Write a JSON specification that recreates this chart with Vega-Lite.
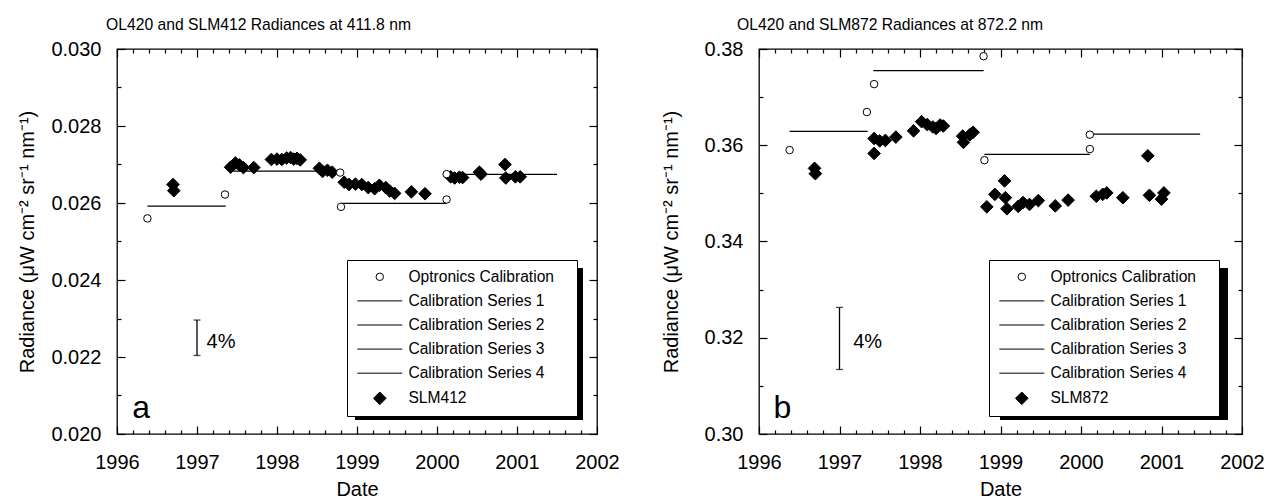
{
  "$schema": "https://vega.github.io/schema/vega-lite/v6.json",
  "background": "white",
  "padding": {"left": 17, "top": 16, "right": 0, "bottom": 0},
  "spacing": 40,
  "config": {
    "font": "Liberation Sans",
    "view": {"stroke": "black", "strokeWidth": 1.3},
    "axis": {"domain": false, "grid": false, "tickColor": "black", "tickWidth": 1.2, "labelColor": "black", "titleColor": "black", "labelFont": "Liberation Sans", "titleFont": "Liberation Sans", "labelFontSize": 20, "titleFontSize": 20, "titleFontWeight": "normal", "labelOverlap": false, "labelFlush": false},
    "title": {"font": "Liberation Sans", "fontSize": 15.7, "fontWeight": "normal", "color": "black", "anchor": "start", "frame": "group", "baseline": "alphabetic", "offset": 5},
    "legend": {"orient": "none", "title": null, "padding": 9, "strokeColor": "black", "fillColor": "white", "cornerRadius": 0, "labelFont": "Liberation Sans", "labelFontSize": 15.6, "labelColor": "black", "labelLimit": 400, "rowPadding": 7.1, "symbolOffset": 16, "labelOffset": 20.8, "symbolStrokeWidth": 1, "symbolOpacity": 1}
  },
  "datasets": {
    "points_a": [
      {"series": "SLM412", "year": 1996.70, "radiance": 0.02648},
      {"series": "SLM412", "year": 1996.71, "radiance": 0.02632},
      {"series": "SLM412", "year": 1997.42, "radiance": 0.02693},
      {"series": "SLM412", "year": 1997.48, "radiance": 0.02704},
      {"series": "SLM412", "year": 1997.53, "radiance": 0.02699},
      {"series": "SLM412", "year": 1997.58, "radiance": 0.02692},
      {"series": "SLM412", "year": 1997.71, "radiance": 0.02692},
      {"series": "SLM412", "year": 1997.93, "radiance": 0.02713},
      {"series": "SLM412", "year": 1998.00, "radiance": 0.02714},
      {"series": "SLM412", "year": 1998.06, "radiance": 0.02713},
      {"series": "SLM412", "year": 1998.12, "radiance": 0.02717},
      {"series": "SLM412", "year": 1998.17, "radiance": 0.02718},
      {"series": "SLM412", "year": 1998.21, "radiance": 0.02714},
      {"series": "SLM412", "year": 1998.25, "radiance": 0.02716},
      {"series": "SLM412", "year": 1998.29, "radiance": 0.02712},
      {"series": "SLM412", "year": 1998.53, "radiance": 0.02690},
      {"series": "SLM412", "year": 1998.57, "radiance": 0.02682},
      {"series": "SLM412", "year": 1998.63, "radiance": 0.02685},
      {"series": "SLM412", "year": 1998.69, "radiance": 0.02680},
      {"series": "SLM412", "year": 1998.84, "radiance": 0.02654},
      {"series": "SLM412", "year": 1998.90, "radiance": 0.02648},
      {"series": "SLM412", "year": 1998.98, "radiance": 0.02649},
      {"series": "SLM412", "year": 1999.06, "radiance": 0.02648},
      {"series": "SLM412", "year": 1999.14, "radiance": 0.02640},
      {"series": "SLM412", "year": 1999.22, "radiance": 0.02637},
      {"series": "SLM412", "year": 1999.28, "radiance": 0.02646},
      {"series": "SLM412", "year": 1999.36, "radiance": 0.02640},
      {"series": "SLM412", "year": 1999.41, "radiance": 0.02631},
      {"series": "SLM412", "year": 1999.47, "radiance": 0.02625},
      {"series": "SLM412", "year": 1999.68, "radiance": 0.02629},
      {"series": "SLM412", "year": 1999.85, "radiance": 0.02624},
      {"series": "SLM412", "year": 2000.17, "radiance": 0.02668},
      {"series": "SLM412", "year": 2000.22, "radiance": 0.02665},
      {"series": "SLM412", "year": 2000.28, "radiance": 0.02667},
      {"series": "SLM412", "year": 2000.32, "radiance": 0.02666},
      {"series": "SLM412", "year": 2000.53, "radiance": 0.02680},
      {"series": "SLM412", "year": 2000.55, "radiance": 0.02675},
      {"series": "SLM412", "year": 2000.85, "radiance": 0.02700},
      {"series": "SLM412", "year": 2000.86, "radiance": 0.02665},
      {"series": "SLM412", "year": 2000.98, "radiance": 0.02668},
      {"series": "SLM412", "year": 2001.04, "radiance": 0.02668},
      {"series": "Optronics Calibration", "year": 1996.38, "radiance": 0.02560},
      {"series": "Optronics Calibration", "year": 1997.35, "radiance": 0.02622},
      {"series": "Optronics Calibration", "year": 1998.79, "radiance": 0.02679},
      {"series": "Optronics Calibration", "year": 1998.80, "radiance": 0.02590},
      {"series": "Optronics Calibration", "year": 2000.12, "radiance": 0.02609},
      {"series": "Optronics Calibration", "year": 2000.12, "radiance": 0.02675}
    ],
    "lines_a": [
      {"series": "Calibration Series 1", "start": 1996.38, "end": 1997.36, "value": 0.02592},
      {"series": "Calibration Series 2", "start": 1997.42, "end": 1998.79, "value": 0.02683},
      {"series": "Calibration Series 3", "start": 1998.80, "end": 2000.12, "value": 0.02599},
      {"series": "Calibration Series 4", "start": 2000.12, "end": 2001.50, "value": 0.026745}
    ],
    "bar_a": [{"year": 1997.0, "low": 0.02204, "high": 0.02296}],
    "pct_a": [{"label": "4%", "year": 1997.12, "radiance": 0.02224}],
    "tag_a": [{"label": "a", "year": 1996.19, "radiance": 0.02042}],
    "points_b": [
      {"series": "SLM872", "year": 1996.69, "radiance": 0.3552},
      {"series": "SLM872", "year": 1996.70, "radiance": 0.3541},
      {"series": "SLM872", "year": 1997.43, "radiance": 0.3583},
      {"series": "SLM872", "year": 1997.43, "radiance": 0.3614},
      {"series": "SLM872", "year": 1997.50, "radiance": 0.3609},
      {"series": "SLM872", "year": 1997.57, "radiance": 0.3610},
      {"series": "SLM872", "year": 1997.70, "radiance": 0.3617},
      {"series": "SLM872", "year": 1997.92, "radiance": 0.3630},
      {"series": "SLM872", "year": 1998.02, "radiance": 0.3649},
      {"series": "SLM872", "year": 1998.09, "radiance": 0.3643},
      {"series": "SLM872", "year": 1998.16, "radiance": 0.3638},
      {"series": "SLM872", "year": 1998.20, "radiance": 0.3635},
      {"series": "SLM872", "year": 1998.25, "radiance": 0.3642},
      {"series": "SLM872", "year": 1998.29, "radiance": 0.3640},
      {"series": "SLM872", "year": 1998.53, "radiance": 0.3619},
      {"series": "SLM872", "year": 1998.54, "radiance": 0.3606},
      {"series": "SLM872", "year": 1998.62, "radiance": 0.3622},
      {"series": "SLM872", "year": 1998.66, "radiance": 0.3627},
      {"series": "SLM872", "year": 1998.83, "radiance": 0.3472},
      {"series": "SLM872", "year": 1998.93, "radiance": 0.3498},
      {"series": "SLM872", "year": 1999.05, "radiance": 0.3526},
      {"series": "SLM872", "year": 1999.06, "radiance": 0.3491},
      {"series": "SLM872", "year": 1999.08, "radiance": 0.3468},
      {"series": "SLM872", "year": 1999.22, "radiance": 0.3473},
      {"series": "SLM872", "year": 1999.28, "radiance": 0.3481},
      {"series": "SLM872", "year": 1999.36, "radiance": 0.3477},
      {"series": "SLM872", "year": 1999.47, "radiance": 0.3485},
      {"series": "SLM872", "year": 1999.68, "radiance": 0.3474},
      {"series": "SLM872", "year": 1999.84, "radiance": 0.3486},
      {"series": "SLM872", "year": 2000.19, "radiance": 0.3494},
      {"series": "SLM872", "year": 2000.27, "radiance": 0.3498},
      {"series": "SLM872", "year": 2000.32, "radiance": 0.3501},
      {"series": "SLM872", "year": 2000.52, "radiance": 0.3491},
      {"series": "SLM872", "year": 2000.83, "radiance": 0.3578},
      {"series": "SLM872", "year": 2000.85, "radiance": 0.3496},
      {"series": "SLM872", "year": 2001.00, "radiance": 0.3488},
      {"series": "SLM872", "year": 2001.03, "radiance": 0.3501},
      {"series": "Optronics Calibration", "year": 1996.38, "radiance": 0.3590},
      {"series": "Optronics Calibration", "year": 1997.34, "radiance": 0.3669},
      {"series": "Optronics Calibration", "year": 1997.43, "radiance": 0.3727},
      {"series": "Optronics Calibration", "year": 1998.79, "radiance": 0.3785},
      {"series": "Optronics Calibration", "year": 1998.80, "radiance": 0.3569},
      {"series": "Optronics Calibration", "year": 2000.11, "radiance": 0.3592},
      {"series": "Optronics Calibration", "year": 2000.11, "radiance": 0.3622}
    ],
    "lines_b": [
      {"series": "Calibration Series 1", "start": 1996.38, "end": 1997.35, "value": 0.3629},
      {"series": "Calibration Series 2", "start": 1997.42, "end": 1998.79, "value": 0.3755},
      {"series": "Calibration Series 3", "start": 1998.80, "end": 2000.11, "value": 0.3581},
      {"series": "Calibration Series 4", "start": 2000.11, "end": 2001.48, "value": 0.3623}
    ],
    "bar_b": [{"year": 1997.0, "low": 0.3134, "high": 0.3263}],
    "pct_b": [{"label": "4%", "year": 1997.17, "radiance": 0.3178}],
    "tag_b": [{"label": "b", "year": 1996.18, "radiance": 0.3033}]
  },
  "resolve": {
    "scale": {"shape": "independent", "fill": "independent", "size": "independent", "stroke": "independent", "strokeDash": "independent"},
    "legend": {"shape": "independent", "fill": "independent", "size": "independent", "stroke": "independent", "strokeDash": "independent"}
  },
  "hconcat": [
    {
      "width": 480,
      "height": 385,
      "title": {"text": "OL420 and SLM412 Radiances at 411.8 nm", "dx": -11},
      "resolve": {"axis": {"x": "independent", "y": "independent"}},
      "layer": [
        {
          "data": {"name": "lines_a"},
          "mark": {"type": "rule", "color": "black", "strokeWidth": 1.3},
          "encoding": {
            "x": {"field": "start", "type": "quantitative", "scale": {"domain": [1996, 2002], "nice": false, "zero": false},
                  "axis": {"orient": "bottom", "values": [1996.2,1996.4,1996.6,1996.8,1997.2,1997.4,1997.6,1997.8,1998.2,1998.4,1998.6,1998.8,1999.2,1999.4,1999.6,1999.8,2000.2,2000.4,2000.6,2000.8,2001.2,2001.4,2001.6,2001.8], "tickSize": -4, "labels": false, "title": null}},
            "x2": {"field": "end"},
            "y": {"field": "value", "type": "quantitative", "scale": {"domain": [0.020, 0.030], "nice": false, "zero": false},
                  "axis": {"orient": "left", "values": [0.021, 0.023, 0.025, 0.027, 0.029], "tickSize": -4, "labels": false, "title": null}},
            "strokeDash": {"field": "series", "type": "nominal",
                  "scale": {"domain": ["legend shadow"], "range": [[1, 0]]},
                  "legend": {"orient": "bottom-right", "offset": 14.5, "padding": 0, "fillColor": "transparent", "strokeColor": "transparent", "symbolType": "M-1.14,-0.76H1.14V0.76H-1.14Z", "symbolSize": 40000, "symbolFillColor": "black", "symbolStrokeColor": "black", "symbolStrokeWidth": 0, "symbolOffset": 0, "labelOffset": 0, "labelFontSize": 1, "labelExpr": "''", "zindex": 0}}
          }
        },
        {
          "data": {"name": "bar_a"},
          "mark": {"type": "errorbar", "ticks": true, "size": 7, "thickness": 1.3, "color": "black"},
          "encoding": {
            "x": {"field": "year", "type": "quantitative", "scale": {"domain": [1996, 2002], "nice": false, "zero": false}, "axis": null},
            "y": {"field": "low", "type": "quantitative", "scale": {"domain": [0.020, 0.030], "nice": false, "zero": false}, "axis": null},
            "y2": {"field": "high"}
          }
        },
        {
          "data": {"name": "pct_a"},
          "mark": {"type": "text", "align": "left", "baseline": "alphabetic", "fontSize": 20, "color": "black"},
          "encoding": {
            "x": {"field": "year", "type": "quantitative", "scale": {"domain": [1996, 2002], "nice": false, "zero": false},
                  "axis": {"orient": "top", "values": [1996,1997,1998,1999,2000,2001,2002], "tickSize": -8, "labels": false, "title": null}},
            "y": {"field": "radiance", "type": "quantitative", "scale": {"domain": [0.020, 0.030], "nice": false, "zero": false},
                  "axis": {"orient": "right", "values": [0.020, 0.022, 0.024, 0.026, 0.028, 0.030], "tickSize": -8, "labels": false, "title": null}},
            "text": {"field": "label"}
          }
        },
        {
          "data": {"name": "tag_a"},
          "mark": {"type": "text", "align": "left", "baseline": "alphabetic", "fontSize": 32, "color": "black"},
          "encoding": {
            "x": {"field": "year", "type": "quantitative", "scale": {"domain": [1996, 2002], "nice": false, "zero": false},
                  "axis": {"orient": "top", "values": [1996.2,1996.4,1996.6,1996.8,1997.2,1997.4,1997.6,1997.8,1998.2,1998.4,1998.6,1998.8,1999.2,1999.4,1999.6,1999.8,2000.2,2000.4,2000.6,2000.8,2001.2,2001.4,2001.6,2001.8], "tickSize": -4, "labels": false, "title": null}},
            "y": {"field": "radiance", "type": "quantitative", "scale": {"domain": [0.020, 0.030], "nice": false, "zero": false},
                  "axis": {"orient": "right", "values": [0.021, 0.023, 0.025, 0.027, 0.029], "tickSize": -4, "labels": false, "title": null}},
            "text": {"field": "label"}
          }
        },
        {
          "data": {"name": "points_a"},
          "mark": {"type": "point", "filled": true, "strokeWidth": 1, "opacity": 1},
          "encoding": {
            "x": {"field": "year", "type": "quantitative", "scale": {"domain": [1996, 2002], "nice": false, "zero": false},
                  "axis": {"orient": "bottom", "values": [1996,1997,1998,1999,2000,2001,2002], "format": "d", "tickSize": -8, "labelPadding": 26, "title": "Date", "titlePadding": 7}},
            "y": {"field": "radiance", "type": "quantitative", "scale": {"domain": [0.020, 0.030], "nice": false, "zero": false},
                  "axis": {"orient": "left", "values": [0.020, 0.022, 0.024, 0.026, 0.028, 0.030], "format": ".3f", "tickSize": -8, "labelPadding": 24, "title": "Radiance (μW cm⁻² sr⁻¹ nm⁻¹)", "titlePadding": 13}},
            "shape": {"field": "series", "type": "nominal",
                      "scale": {"domain": ["Optronics Calibration", "Calibration Series 1", "Calibration Series 2", "Calibration Series 3", "Calibration Series 4", "SLM412"], "range": ["circle", "M-5,0L5,0", "M-5,0L5,0", "M-5,0L5,0", "M-5,0L5,0", "diamond"]},
                      "legend": {"legendX": 230, "legendY": 211, "zindex": 1, "labelExpr": "datum.label == 'Optronics Calibration' ? datum.label + '\u00a0\u00a0\u00a0\u200b' : datum.label"}},
            "fill": {"field": "series", "type": "nominal",
                     "scale": {"domain": ["Optronics Calibration", "Calibration Series 1", "Calibration Series 2", "Calibration Series 3", "Calibration Series 4", "SLM412"], "range": ["white", "black", "black", "black", "black", "black"]},
                     "legend": {"legendX": 230, "legendY": 211, "zindex": 1, "labelExpr": "datum.label == 'Optronics Calibration' ? datum.label + '\u00a0\u00a0\u00a0\u200b' : datum.label"}},
            "stroke": {"field": "series", "type": "nominal",
                     "scale": {"domain": ["Optronics Calibration", "Calibration Series 1", "Calibration Series 2", "Calibration Series 3", "Calibration Series 4", "SLM412"], "range": ["black", "black", "black", "black", "black", "black"]},
                     "legend": {"legendX": 230, "legendY": 211, "zindex": 1, "labelExpr": "datum.label == 'Optronics Calibration' ? datum.label + '\u00a0\u00a0\u00a0\u200b' : datum.label"}},
            "size": {"field": "series", "type": "nominal",
                     "scale": {"type": "ordinal", "domain": ["Optronics Calibration", "Calibration Series 1", "Calibration Series 2", "Calibration Series 3", "Calibration Series 4", "SLM412"], "range": [56, 81, 81, 81, 81, 160]},
                     "legend": {"legendX": 230, "legendY": 211, "zindex": 1, "labelExpr": "datum.label == 'Optronics Calibration' ? datum.label + '\u00a0\u00a0\u00a0\u200b' : datum.label"}}
          }
        }
      ]
    },
    {
      "width": 483,
      "height": 385,
      "title": {"text": "OL420 and SLM872 Radiances at 872.2 nm", "dx": -22},
      "resolve": {"axis": {"x": "independent", "y": "independent"}},
      "layer": [
        {
          "data": {"name": "lines_b"},
          "mark": {"type": "rule", "color": "black", "strokeWidth": 1.3},
          "encoding": {
            "x": {"field": "start", "type": "quantitative", "scale": {"domain": [1996, 2002], "nice": false, "zero": false},
                  "axis": {"orient": "bottom", "values": [1996.2,1996.4,1996.6,1996.8,1997.2,1997.4,1997.6,1997.8,1998.2,1998.4,1998.6,1998.8,1999.2,1999.4,1999.6,1999.8,2000.2,2000.4,2000.6,2000.8,2001.2,2001.4,2001.6,2001.8], "tickSize": -4, "labels": false, "title": null}},
            "x2": {"field": "end"},
            "y": {"field": "value", "type": "quantitative", "scale": {"domain": [0.30, 0.38], "nice": false, "zero": false},
                  "axis": {"orient": "left", "values": [0.31, 0.33, 0.35, 0.37], "tickSize": -4, "labels": false, "title": null}},
            "strokeDash": {"field": "series", "type": "nominal",
                  "scale": {"domain": ["legend shadow"], "range": [[1, 0]]},
                  "legend": {"orient": "bottom-right", "offset": 14.5, "padding": 0, "fillColor": "transparent", "strokeColor": "transparent", "symbolType": "M-1.14,-0.76H1.14V0.76H-1.14Z", "symbolSize": 40000, "symbolFillColor": "black", "symbolStrokeColor": "black", "symbolStrokeWidth": 0, "symbolOffset": 0, "labelOffset": 0, "labelFontSize": 1, "labelExpr": "''", "zindex": 0}}
          }
        },
        {
          "data": {"name": "bar_b"},
          "mark": {"type": "errorbar", "ticks": true, "size": 7, "thickness": 1.3, "color": "black"},
          "encoding": {
            "x": {"field": "year", "type": "quantitative", "scale": {"domain": [1996, 2002], "nice": false, "zero": false}, "axis": null},
            "y": {"field": "low", "type": "quantitative", "scale": {"domain": [0.30, 0.38], "nice": false, "zero": false}, "axis": null},
            "y2": {"field": "high"}
          }
        },
        {
          "data": {"name": "pct_b"},
          "mark": {"type": "text", "align": "left", "baseline": "alphabetic", "fontSize": 20, "color": "black"},
          "encoding": {
            "x": {"field": "year", "type": "quantitative", "scale": {"domain": [1996, 2002], "nice": false, "zero": false},
                  "axis": {"orient": "top", "values": [1996,1997,1998,1999,2000,2001,2002], "tickSize": -8, "labels": false, "title": null}},
            "y": {"field": "radiance", "type": "quantitative", "scale": {"domain": [0.30, 0.38], "nice": false, "zero": false},
                  "axis": {"orient": "right", "values": [0.30, 0.32, 0.34, 0.36, 0.38], "tickSize": -8, "labels": false, "title": null}},
            "text": {"field": "label"}
          }
        },
        {
          "data": {"name": "tag_b"},
          "mark": {"type": "text", "align": "left", "baseline": "alphabetic", "fontSize": 32, "color": "black"},
          "encoding": {
            "x": {"field": "year", "type": "quantitative", "scale": {"domain": [1996, 2002], "nice": false, "zero": false},
                  "axis": {"orient": "top", "values": [1996.2,1996.4,1996.6,1996.8,1997.2,1997.4,1997.6,1997.8,1998.2,1998.4,1998.6,1998.8,1999.2,1999.4,1999.6,1999.8,2000.2,2000.4,2000.6,2000.8,2001.2,2001.4,2001.6,2001.8], "tickSize": -4, "labels": false, "title": null}},
            "y": {"field": "radiance", "type": "quantitative", "scale": {"domain": [0.30, 0.38], "nice": false, "zero": false},
                  "axis": {"orient": "right", "values": [0.31, 0.33, 0.35, 0.37], "tickSize": -4, "labels": false, "title": null}},
            "text": {"field": "label"}
          }
        },
        {
          "data": {"name": "points_b"},
          "mark": {"type": "point", "filled": true, "strokeWidth": 1, "opacity": 1},
          "encoding": {
            "x": {"field": "year", "type": "quantitative", "scale": {"domain": [1996, 2002], "nice": false, "zero": false},
                  "axis": {"orient": "bottom", "values": [1996,1997,1998,1999,2000,2001,2002], "format": "d", "tickSize": -8, "labelPadding": 26, "title": "Date", "titlePadding": 7}},
            "y": {"field": "radiance", "type": "quantitative", "scale": {"domain": [0.30, 0.38], "nice": false, "zero": false},
                  "axis": {"orient": "left", "values": [0.30, 0.32, 0.34, 0.36, 0.38], "format": ".2f", "tickSize": -8, "labelPadding": 24, "title": "Radiance (μW cm⁻² sr⁻¹ nm⁻¹)", "titlePadding": 23}},
            "shape": {"field": "series", "type": "nominal",
                      "scale": {"domain": ["Optronics Calibration", "Calibration Series 1", "Calibration Series 2", "Calibration Series 3", "Calibration Series 4", "SLM872"], "range": ["circle", "M-5,0L5,0", "M-5,0L5,0", "M-5,0L5,0", "M-5,0L5,0", "diamond"]},
                      "legend": {"legendX": 230, "legendY": 211, "zindex": 1, "labelExpr": "datum.label == 'Optronics Calibration' ? datum.label + '\u00a0\u00a0\u00a0\u200b' : datum.label"}},
            "fill": {"field": "series", "type": "nominal",
                     "scale": {"domain": ["Optronics Calibration", "Calibration Series 1", "Calibration Series 2", "Calibration Series 3", "Calibration Series 4", "SLM872"], "range": ["white", "black", "black", "black", "black", "black"]},
                     "legend": {"legendX": 230, "legendY": 211, "zindex": 1, "labelExpr": "datum.label == 'Optronics Calibration' ? datum.label + '\u00a0\u00a0\u00a0\u200b' : datum.label"}},
            "stroke": {"field": "series", "type": "nominal",
                     "scale": {"domain": ["Optronics Calibration", "Calibration Series 1", "Calibration Series 2", "Calibration Series 3", "Calibration Series 4", "SLM872"], "range": ["black", "black", "black", "black", "black", "black"]},
                     "legend": {"legendX": 230, "legendY": 211, "zindex": 1, "labelExpr": "datum.label == 'Optronics Calibration' ? datum.label + '\u00a0\u00a0\u00a0\u200b' : datum.label"}},
            "size": {"field": "series", "type": "nominal",
                     "scale": {"type": "ordinal", "domain": ["Optronics Calibration", "Calibration Series 1", "Calibration Series 2", "Calibration Series 3", "Calibration Series 4", "SLM872"], "range": [56, 81, 81, 81, 81, 160]},
                     "legend": {"legendX": 230, "legendY": 211, "zindex": 1, "labelExpr": "datum.label == 'Optronics Calibration' ? datum.label + '\u00a0\u00a0\u00a0\u200b' : datum.label"}}
          }
        }
      ]
    }
  ]
}
